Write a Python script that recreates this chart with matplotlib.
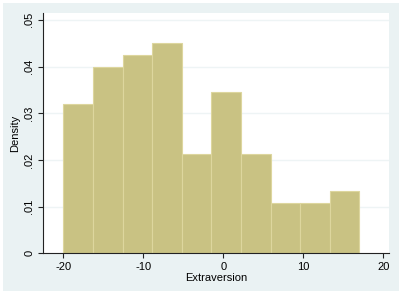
import matplotlib
matplotlib.use("Agg")
import matplotlib.pyplot as plt
from matplotlib.patches import Rectangle

bin_edges = [-20.0, -16.3, -12.6, -8.9, -5.2, -1.5, 2.2, 5.9, 9.6, 13.3, 17.0]
density = [0.0319, 0.0399, 0.0424, 0.0451, 0.0213, 0.0346, 0.0213, 0.0107, 0.0107, 0.0134]
xticks = [-20, -10, 0, 10, 20]
yticks = [0, 0.01, 0.02, 0.03, 0.04, 0.05]
yticklabels = ["0", ".01", ".02", ".03", ".04", ".05"]

plt.rcParams['font.family'] = ['Liberation Sans', 'DejaVu Sans']

fig = plt.figure(figsize=(4.03, 2.95), dpi=100, facecolor="white")
bg = Rectangle((3/403, 4/295), 396/403, 288/295, transform=fig.transFigure,
               facecolor="#EAF2F3", edgecolor="none", zorder=-10)
fig.add_artist(bg)

ax = fig.add_axes([42.7/403, (295-253.3)/295, 346.6/403, 240/295])
ax.set_zorder(1)
ax.set_facecolor("white")
widths = [bin_edges[i+1]-bin_edges[i] for i in range(len(density))]
ax.bar(bin_edges[:-1], density, width=widths, align="edge", color="#C9C283",
       edgecolor="#DDD69E", linewidth=0.8, zorder=2)

ax.set_xlim(-22.58, 20.75)
ax.set_ylim(0, 0.0514)
ax.set_xticks(xticks)
ax.set_xticklabels([str(t) for t in xticks])
ax.set_yticks(yticks)
ax.set_yticklabels(yticklabels, rotation=90, va="center")
for y in yticks[1:]:
    ax.axhline(y, color="#EEF4F5", lw=1.0, zorder=1)

for s in ["top", "right"]:
    ax.spines[s].set_visible(False)
for s in ["left", "bottom"]:
    ax.spines[s].set_color("#222222")
    ax.spines[s].set_linewidth(0.8)
ax.tick_params(axis="both", direction="out", length=3.5, width=0.8, color="#222222",
               labelsize=8, labelcolor="black", pad=2.5)
ax.set_xlabel("Extraversion", fontsize=8, labelpad=1)
ax.set_ylabel("Density", fontsize=8, labelpad=3)

fig.savefig("out.png", dpi=100, facecolor="white")
